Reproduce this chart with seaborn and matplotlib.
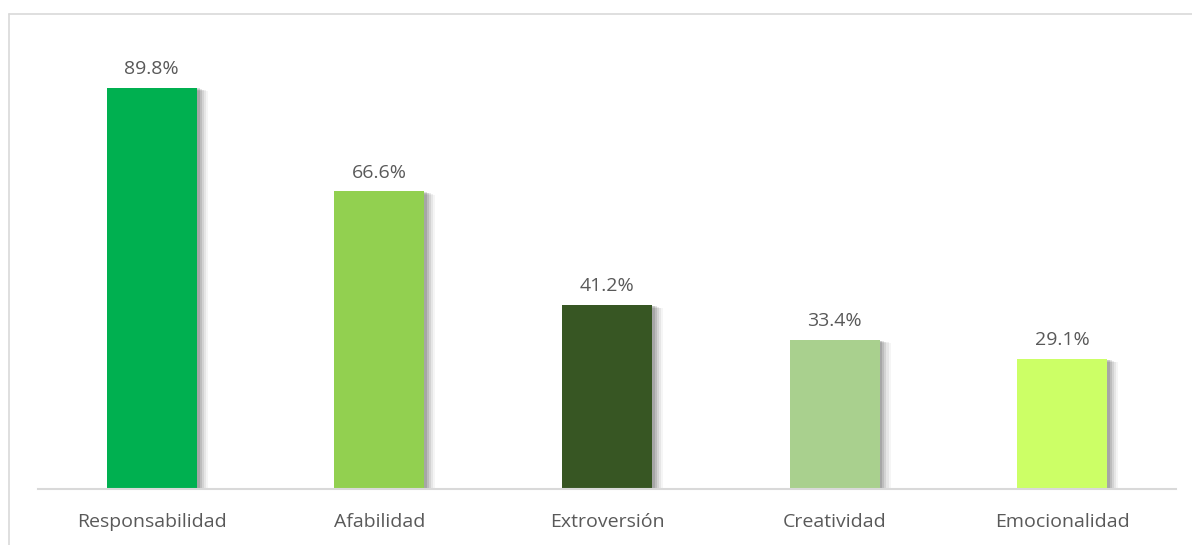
import matplotlib
matplotlib.use("Agg")
import matplotlib.pyplot as plt
import matplotlib.patheffects as pe
from matplotlib.lines import Line2D
import seaborn as sns
import pandas as pd

categories = ["Responsabilidad", "Afabilidad", "Extroversión", "Creatividad", "Emocionalidad"]
values = [89.8, 66.6, 41.2, 33.4, 29.1]
colors = ["#00B050", "#92D050", "#375623", "#A9D08E", "#CCFF66"]

df = pd.DataFrame({"rasgo": categories, "pct": values})

sns.set_theme(style="white")
plt.rcParams["font.family"] = ["Open Sans", "DejaVu Sans"]

fig = plt.figure(figsize=(11.92, 5.45), dpi=100)
ax = fig.add_axes([38 / 1192, 56 / 545, 1138 / 1192, 447 / 545])

sns.barplot(data=df, x="rasgo", y="pct", hue="rasgo", palette=colors,
            width=0.395, legend=False, ax=ax, saturation=1)

# soft drop shadow to the right of each bar
shadow = [pe.SimplePatchShadow(offset=(o, -o * 0.3), shadow_rgbFace="#000000", alpha=a)
          for o, a in [(8, 0.04), (6.5, 0.06), (5, 0.08), (3.5, 0.1), (2, 0.12)]]
shadow.append(pe.Normal())
for p in ax.patches:
    p.set_path_effects(shadow)
    p.set_edgecolor("none")

for i, v in enumerate(values):
    ax.annotate(f"{v:.1f}%", (i, v), xytext=(0, 7), textcoords="offset points",
                ha="center", va="bottom", fontsize=14, color="#595959")

ax.set_ylim(0, 100)
ax.set_xlim(-0.5, len(categories) - 0.5)
ax.set_xlabel("")
ax.set_ylabel("")
ax.set_yticks([])
ax.tick_params(axis="x", length=0, pad=17, labelsize=14, labelcolor="#595959")
for s in ["top", "right", "left"]:
    ax.spines[s].set_visible(False)
ax.spines["bottom"].set_color("#D9D9D9")
ax.spines["bottom"].set_linewidth(1.5)

# outer chart frame (left and top edges)
fig.add_artist(Line2D([8.5 / 1192, 8.5 / 1192], [0, 1 - 13.5 / 545],
                      transform=fig.transFigure, color="#D9D9D9", lw=1.2))
fig.add_artist(Line2D([8.5 / 1192, 1], [1 - 13.5 / 545, 1 - 13.5 / 545],
                      transform=fig.transFigure, color="#D9D9D9", lw=1.2))

fig.savefig("out.png", dpi=100)
